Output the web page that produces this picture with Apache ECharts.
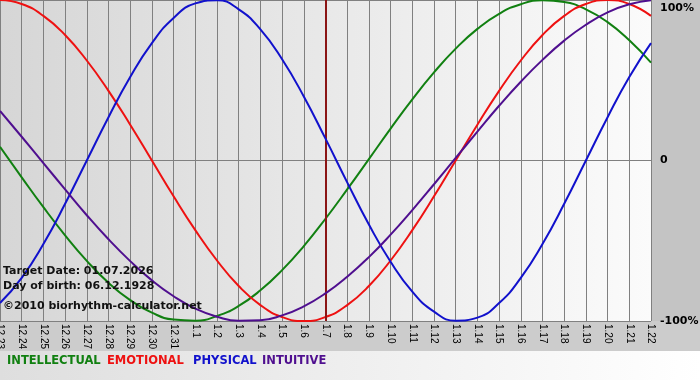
<!DOCTYPE html>
<html>
<head>
<meta charset="utf-8">
<script src="https://cdn.jsdelivr.net/npm/echarts@6/dist/echarts.min.js"></script>
<style>
html,body{margin:0;padding:0;background:#c4c4c4;}
#chart{width:700px;height:380px;}
</style>
</head>
<body>
<div id="chart"></div>
<script>
const categories = ["12.23","12.24","12.25","12.26","12.27","12.28","12.29","12.30","12.31","1.1","1.2","1.3","1.4","1.5","1.6","1.7","1.8","1.9","1.10","1.11","1.12","1.13","1.14","1.15","1.16","1.17","1.18","1.19","1.20","1.21","1.22"];
const intellectual = [8.5,-10.5,-29.1,-46.6,-62.5,-76.2,-87.0,-94.8,-99.1,-99.8,-96.9,-90.6,-80.9,-68.3,-53.3,-36.3,-18.0,0.9,19.9,38.1,54.9,69.7,82.0,91.4,97.4,99.9,98.8,94.2,86.2,74.9,61.0];
const emotional = [100,97.5,90.1,78.2,62.3,43.4,22.3,0,-22.3,-43.4,-62.3,-78.2,-90.1,-97.5,-100,-97.5,-90.1,-78.2,-62.3,-43.4,-22.3,0,22.3,43.4,62.3,78.2,90.1,97.5,100,97.5,90.1];
const physical = [-88.8,-73.1,-52.0,-27.0,0,27.0,52.0,73.1,88.8,97.9,99.8,94.2,81.7,63.1,39.9,13.6,-13.6,-39.9,-63.1,-81.7,-94.2,-99.8,-97.9,-88.8,-73.1,-52.0,-27.0,0,27.0,52.0,73.1];
const intuitive = [30.9,14.8,-1.6,-18.0,-34.1,-49.1,-62.7,-74.7,-84.6,-92.3,-97.3,-99.8,-99.5,-96.5,-90.9,-82.8,-72.4,-60.2,-46.2,-30.9,-14.8,1.6,18.0,34.1,49.1,62.7,74.7,84.6,92.3,97.3,99.8];
const yTicks = [-100, 0, 100];
const targetDay = "1.7";
const infoLines = ["Target Date: 01.07.2026", "Day of birth: 06.12.1928", "\u00a92010 biorhythm-calculator.net"];
const seriesNames = ["INTELLECTUAL", "EMOTIONAL", "PHYSICAL", "INTUITIVE"];
const seriesColors = ["#118011", "#ee1111", "#1111cc", "#4f0f8f"];
const legendX = [7, 107, 193, 262];

const chart = echarts.init(document.getElementById('chart'), null, {renderer: 'canvas'});
const dataSets = [intellectual, emotional, physical, intuitive];

const series = dataSets.map((d, i) => ({
  name: seriesNames[i],
  type: 'line',
  data: d,
  smooth: true,
  showSymbol: false,
  lineStyle: {color: seriesColors[i], width: 2},
  itemStyle: {color: seriesColors[i]},
  z: 3 + i
}));
series[0].markLine = {
  silent: true,
  symbol: ['none', 'none'],
  label: {show: false},
  lineStyle: {color: '#8b1515', width: 2, type: 'solid'},
  data: [{xAxis: targetDay}]
};

const graphics = [
  {type: 'rect', left: 0, top: 321, shape: {width: 700, height: 30}, style: {fill: '#cccccc'}, z: -10, silent: true},
  {type: 'rect', left: 0, top: 351, shape: {width: 700, height: 29},
    style: {fill: {type: 'linear', x: 0, y: 0, x2: 1, y2: 0, colorStops: [{offset: 0, color: '#dedede'}, {offset: 1, color: '#ffffff'}]}}, z: -10, silent: true},
  {type: 'text', left: 3, top: 266, z: 20, style: {text: infoLines[0], font: 'bold 11px "DejaVu Sans"', fill: '#111'}},
  {type: 'text', left: 3, top: 281, z: 20, style: {text: infoLines[1], font: 'bold 11px "DejaVu Sans"', fill: '#111'}},
  {type: 'text', left: 3, top: 301, z: 20, style: {text: infoLines[2], font: 'bold 11px "DejaVu Sans"', fill: '#111'}}
];
seriesNames.forEach((n, i) => {
  graphics.push({type: 'text', left: legendX[i], top: 355, z: 20,
    style: {text: n, font: 'bold 11.5px "DejaVu Sans"', fill: seriesColors[i]}});
});

chart.setOption({
  animation: false,
  backgroundColor: '#c4c4c4',
  grid: {
    left: 0, right: 49, top: 0, bottom: 59, containLabel: false,
    outerBoundsMode: 'none',
    show: true, borderWidth: 0,
    backgroundColor: {type: 'linear', x: 0, y: 0, x2: 1, y2: 0,
      colorStops: [{offset: 0, color: '#d6d6d6'}, {offset: 1, color: '#fbfbfb'}]}
  },
  graphic: graphics,
  xAxis: {
    type: 'category',
    data: categories,
    boundaryGap: false,
    axisLine: {show: true, lineStyle: {color: '#808080', width: 1}},
    axisTick: {show: true, interval: 0, length: 4, lineStyle: {color: '#808080'}},
    splitLine: {show: true, interval: 0, lineStyle: {color: '#808080', width: 1}},
    axisLabel: {interval: 0, rotate: -90, fontSize: 10, fontFamily: 'Liberation Sans', color: '#000', margin: 3}
  },
  yAxis: {
    type: 'value',
    position: 'right',
    min: yTicks[0], max: yTicks[2], interval: 100,
    axisLine: {show: false},
    axisTick: {show: false},
    splitLine: {show: true, lineStyle: {color: '#808080', width: 1}},
    axisLabel: {
      formatter: v => (v === 0 ? '0' : v + '%'),
      fontSize: 11, fontWeight: 'bold', fontFamily: 'DejaVu Sans', color: '#000', margin: 9,
      padding: [3, 0, 0, 0],
      verticalAlignMaxLabel: 'top'
    }
  },
  series: series
});
</script>
</body>
</html>
